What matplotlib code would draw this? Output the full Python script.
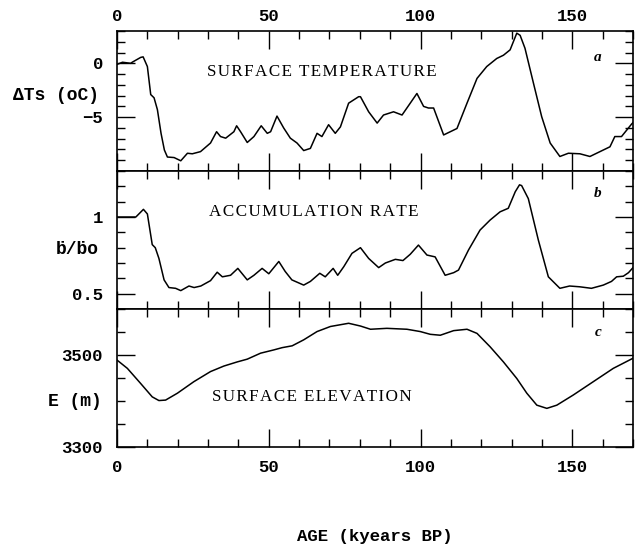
import matplotlib
matplotlib.use("Agg")
import matplotlib.pyplot as plt
from matplotlib.ticker import MultipleLocator, FixedLocator

# ---- data (age in kyears BP) ----
temp_age = [0, 1.8, 4.5, 5, 7.8, 8.6, 10, 11.1, 12.2, 13.3, 14.5, 15.6, 16.6, 18.8, 21,
            23.2, 24.8, 27.5, 30.8, 32.8, 34.1, 35.8, 38.5, 39.4, 40.7, 42.9, 45.1, 47.5,
            49.5, 50.6, 52.7, 54.9, 57.1, 59.3, 61.5, 63.7, 65.9, 67.5, 69.7, 71.9, 73.6,
            76.3, 79.6, 80.2, 82.9, 85.7, 87.8, 91.1, 93.9, 96.6, 98.8, 101, 102.6, 104.3,
            107.6, 109.8, 112, 115.3, 118.6, 121.8, 125.1, 127.3, 129.5, 131.7, 132.8,
            134.4, 137.2, 139.9, 142.7, 145.9, 148.7, 152.5, 155.8, 160.2, 162.4, 164,
            166.2, 169.5, 170]
temp_dT = [-0.1, 0.1, 0.0, 0.1, 0.55, 0.6, -0.3, -2.9, -3.2, -4.3, -6.5, -8.05, -8.7, -8.75,
           -9.05, -8.35, -8.4, -8.2, -7.4, -6.35, -6.8, -6.95, -6.35, -5.8, -6.35, -7.35,
           -6.8, -5.8, -6.5, -6.35, -4.9, -6.0, -6.95, -7.4, -8.1, -7.9, -6.5, -6.8, -5.7,
           -6.5, -5.9, -3.7, -3.1, -3.1, -4.5, -5.55, -4.8, -4.5, -4.8, -3.7, -2.8, -4.0,
           -4.15, -4.15, -6.65, -6.35, -6.05, -3.7, -1.4, -0.3, 0.45, 0.75, 1.25, 2.8, 2.6,
           1.4, -1.85, -4.95, -7.4, -8.65, -8.35, -8.4, -8.65, -8.05, -7.75, -6.8, -6.8,
           -5.65, -5.5]

acc_age = [0, 6.2, 8.7, 10, 11.6, 12.6, 13.8, 15.5, 17.1, 19.3, 21, 23.7, 25.4, 27.6, 30.8,
           33, 34.7, 37.4, 39.8, 42.9, 45.1, 47.8, 50, 53.3, 55.4, 57.6, 61.5, 63.7, 66.8,
           68.6, 71.2, 72.7, 74.7, 77.4, 80.2, 82.9, 86.2, 88.4, 91.7, 94.2, 96.6, 99.3,
           102.1, 104.8, 108.1, 110.9, 112.5, 115.8, 119.6, 122.9, 126.2, 128.9, 131.2,
           132.6, 133.3, 135.5, 138.8, 142.1, 145.9, 149.1, 152.4, 156.3, 160.2, 162.9,
           164.6, 166.8, 168.5, 170]
acc_ratio = [1.0, 1.0, 1.05, 1.02, 0.82, 0.80, 0.73, 0.59, 0.54, 0.535, 0.52, 0.55, 0.54,
             0.55, 0.585, 0.64, 0.61, 0.62, 0.665, 0.59, 0.62, 0.665, 0.63, 0.71, 0.645,
             0.59, 0.556, 0.58, 0.633, 0.61, 0.665, 0.62, 0.676, 0.763, 0.80, 0.73, 0.67,
             0.70, 0.724, 0.716, 0.757, 0.817, 0.752, 0.74, 0.62, 0.637, 0.654, 0.785,
             0.915, 0.98, 1.034, 1.057, 1.165, 1.21, 1.205, 1.12, 0.85, 0.61, 0.535, 0.55,
             0.545, 0.535, 0.556, 0.58, 0.61, 0.614, 0.637, 0.67]

elev_age = [0, 3.4, 7.8, 11.6, 13.8, 16, 19.9, 25.3, 30.8, 35.2, 39.6, 42.9, 47.3, 51.6,
            54.4, 57.7, 61.5, 65.9, 70.3, 76.3, 80.2, 83.5, 88.9, 95.5, 99.9, 103.2, 106.5,
            110.9, 115.3, 118.6, 122.9, 127.3, 131.7, 135, 138.3, 141.6, 144.9, 150.3,
            156.9, 163.5, 170]
elev_m = [3489, 3471, 3438, 3409, 3401, 3402, 3417, 3442, 3464, 3476, 3485, 3491, 3504,
          3511, 3516, 3520, 3533, 3551, 3562, 3569, 3563, 3556, 3558, 3556, 3551, 3545,
          3543, 3553, 3556, 3547, 3518, 3485, 3449, 3417, 3391, 3384, 3391, 3413, 3442,
          3471, 3493]

age_ticks = [0, 50, 100, 150]

mono = ["Liberation Mono", "DejaVu Sans Mono"]
serif = ["Liberation Serif", "DejaVu Serif"]


def spaced(s):
    # the original titles are letter-spaced; a hair space between letters does that
    return "\u200a".join(s)


fig = plt.figure(figsize=(6.43, 5.45), dpi=100)
left, width = 0.182, 0.8025
ax_a = fig.add_axes([left, 0.6862, width, 0.2569])
ax_b = fig.add_axes([left, 0.4330, width, 0.2532])
ax_c = fig.add_axes([left, 0.1798, width, 0.2532])

for ax in (ax_a, ax_b, ax_c):
    ax.set_xlim(0, 170)
    ax.xaxis.set_major_locator(FixedLocator(age_ticks))
    ax.xaxis.set_minor_locator(MultipleLocator(10))
    ax.tick_params(which="both", direction="in", top=True, right=True,
                   labelbottom=False, width=1.0, color="black")
    ax.tick_params(which="major", length=13)
    ax.tick_params(which="minor", length=6)
    for sp in ax.spines.values():
        sp.set_linewidth(1.2)

line_kw = dict(color="black", linewidth=1.1, solid_joinstyle="round")

# a: surface temperature
ax_a.plot(temp_age, temp_dT, **line_kw)
ax_a.set_ylim(-10, 3)
ax_a.set_yticks([-10, -5, 0], ["", "\u22125", "0"])
ax_a.yaxis.set_minor_locator(MultipleLocator(1))
ax_a.tick_params(axis="x", labeltop=True, pad=5)
ax_a.tick_params(axis="y", pad=10)
ax_a.set_xticks(age_ticks, [str(t) for t in age_ticks])

# b: accumulation rate
ax_b.plot(acc_age, acc_ratio, **line_kw)
ax_b.set_ylim(0.4, 1.3)
ax_b.set_yticks([0.5, 1.0], ["0.5", "1"])
ax_b.yaxis.set_minor_locator(MultipleLocator(0.1))
ax_b.tick_params(axis="y", pad=10)

# c: surface elevation
ax_c.plot(elev_age, elev_m, **line_kw)
ax_c.set_ylim(3300, 3600)
ax_c.set_yticks([3300, 3500], ["3300", "3500"])
ax_c.yaxis.set_minor_locator(MultipleLocator(50))
ax_c.tick_params(axis="x", labelbottom=True, pad=9)
ax_c.tick_params(axis="y", pad=10)
ax_c.set_xticks(age_ticks, [str(t) for t in age_ticks])

for ax in (ax_a, ax_b, ax_c):
    for lab in ax.get_xticklabels() + ax.get_yticklabels():
        lab.set_family(mono)
        lab.set_fontweight("bold")
        lab.set_fontsize(12.5)

# panel titles and letters
title_kw = dict(family=serif, fontsize=12.3, va="center", ha="left")
ax_a.text(0.174, 0.707, spaced("SURFACE TEMPERATURE"), transform=ax_a.transAxes, **title_kw)
ax_b.text(0.178, 0.703, spaced("ACCUMULATION RATE"), transform=ax_b.transAxes, **title_kw)
ax_c.text(0.184, 0.362, spaced("SURFACE ELEVATION"), transform=ax_c.transAxes, **title_kw)
for ax, letter, yy in ((ax_a, "a", 0.814), (ax_b, "b", 0.84), (ax_c, "c", 0.833)):
    ax.text(0.932, yy, letter, transform=ax.transAxes, family=serif,
            fontstyle="italic", fontweight="bold", fontsize=11, ha="center", va="center")

# axis labels
lab_kw = dict(family=mono, fontweight="bold", fontsize=13, ha="center", va="center")
fig.text(56 / 643, 1 - 95 / 545, "\u0394Ts (oC)", **lab_kw)
fig.text(77 / 643, 1 - 250 / 545, "\u1e03/\u1e03o", **lab_kw)
fig.text(75 / 643, 1 - 401 / 545, "E (m)", **lab_kw)
fig.text(375 / 643, 1 - 537 / 545, "AGE (kyears BP)", family=mono, fontweight="bold",
         fontsize=12.5, ha="center", va="center")

fig.savefig("out.png", dpi=100)
